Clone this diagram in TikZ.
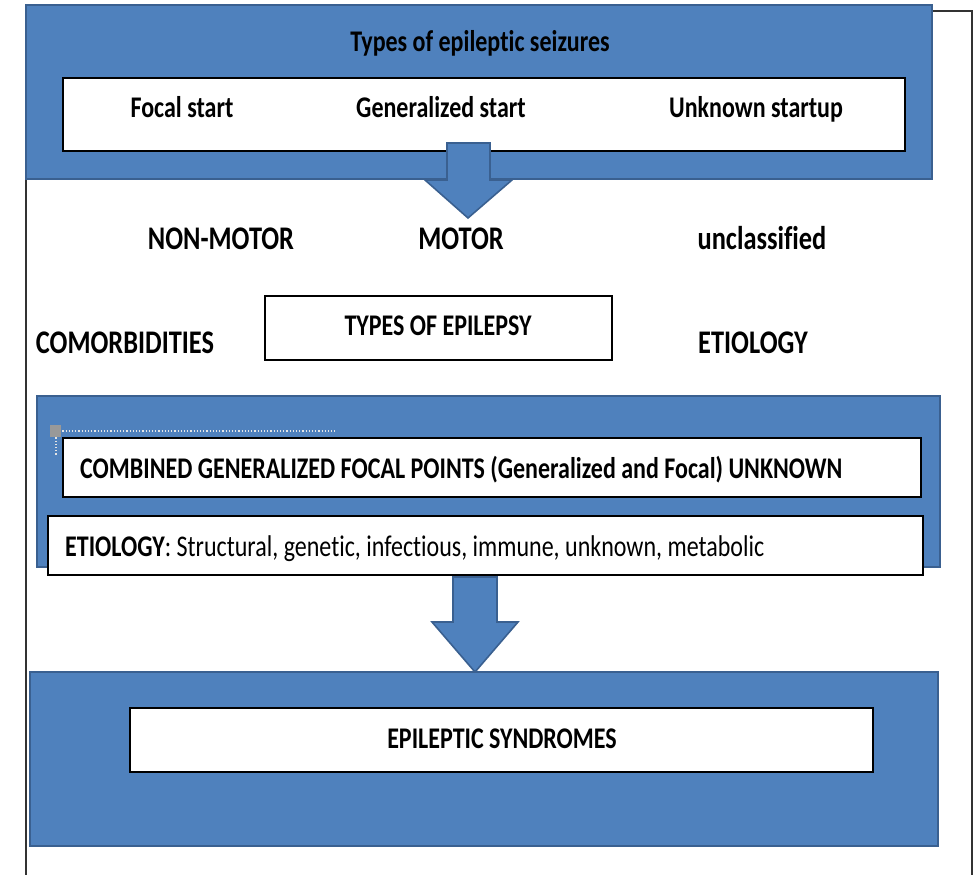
\documentclass[tikz,border=0pt]{standalone}
\usepackage{fontspec}
\setmainfont[FakeStretch=0.8,Ligatures={NoCommon}]{Carlito}
\definecolor{bluefill}{HTML}{4F81BD}
\definecolor{blueedge}{HTML}{3A6090}
\begin{document}
\begin{tikzpicture}[x=1pt,y=-1pt,
  bluebox/.style={fill=bluefill,draw=blueedge,line width=2.2pt},
  whitebox/.style={fill=white,draw=black,line width=1.6pt},
  blockarrow/.style={fill=bluefill,draw=blueedge,line width=1.6pt,line join=miter},
  frameline/.style={draw=black!80,line width=1.4pt},
  boxtext/.style={font=\fontsize{30}{34}\selectfont\bfseries,inner sep=0pt},
  bigtext/.style={font=\fontsize{33}{37}\selectfont\bfseries,inner sep=0pt}]
\useasboundingbox (0,0) rectangle (977,875);
% outer frame
\coordinate (f1) at (26,179);
\coordinate (f2) at (26,875);
\coordinate (f3) at (932,11);
\coordinate (f4) at (972,11);
\coordinate (f5) at (972,875);
\draw[frameline] (f1) -- (f2);
\draw[frameline] (f3) -- (f4) -- (f5);
% top blue box
\path[bluebox] (26,5) rectangle (932,179);
\path[whitebox] (63,78) rectangle (905,151);
\node[boxtext,anchor=base] (title) at (480,52) {Types of epileptic seizures};
\node[boxtext,anchor=base] (focal) at (182,117) {Focal start};
\node[boxtext,anchor=base] (gen) at (441,117) {Generalized start};
\node[boxtext,anchor=base] (unk) at (756,117) {Unknown startup};
% arrow 1
\path[blockarrow] (447,143) -- (490,143) -- (490,180) -- (512,180) -- (468,218) -- (425,180) -- (447,180) -- cycle;
% middle labels
\node[bigtext,anchor=base] (nonmotor) at (221,249) {NON-MOTOR};
\node[bigtext,anchor=base] (motor) at (461,249) {MOTOR};
\node[bigtext,anchor=base] (uncl) at (762,249) {unclassified};
\path[draw=black,line width=1.4pt,fill=white] (265,296) rectangle (612,360);
\node[boxtext,anchor=base] (types) at (438,335) {TYPES OF EPILEPSY};
\node[bigtext,anchor=base] (comorb) at (125,353) {COMORBIDITIES};
\node[bigtext,anchor=base] (etio) at (753,353) {ETIOLOGY};
% second blue box
\path[bluebox] (37,396) rectangle (940,567);
\draw[white!80!gray,line width=1.2pt,dotted] (56,431) -- (335,431);
\draw[white!80!gray,line width=1.2pt,dotted] (56,431) -- (56,456);
\fill[gray!80] (50,425) rectangle (61,437);
\path[whitebox] (63,438) rectangle (921,497);
\node[boxtext,anchor=base west] (combined) at (80,478) {COMBINED GENERALIZED FOCAL POINTS (Generalized and Focal) UNKNOWN};
\path[whitebox] (48,516) rectangle (923,575);
\node[boxtext,anchor=base west] (etiobox) at (65,556) {ETIOLOGY\mdseries: Structural, genetic, infectious, immune, unknown, metabolic};
% arrow 2
\path[blockarrow] (453,577) -- (497,577) -- (497,622) -- (518,622) -- (475,672) -- (432,622) -- (453,622) -- cycle;
% third blue box
\path[bluebox] (30,672) rectangle (938,846);
\path[whitebox] (130,708) rectangle (873,772);
\node[boxtext,anchor=base] (synd) at (502,748) {EPILEPTIC SYNDROMES};
\end{tikzpicture}
\end{document}
